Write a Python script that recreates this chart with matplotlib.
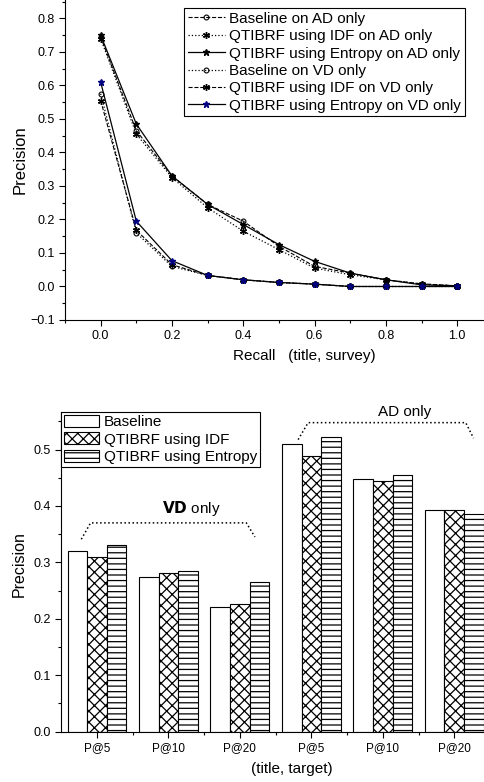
import matplotlib
matplotlib.use('Agg')
import matplotlib.pyplot as plt
from matplotlib.ticker import MultipleLocator
import numpy as np

plt.rcParams['font.family'] = ['Liberation Sans', 'DejaVu Sans']
plt.rcParams['hatch.linewidth'] = 0.9

# top chart: precision / recall curves
recall = [0.0, 0.1, 0.2, 0.3, 0.4, 0.5, 0.6, 0.7, 0.8, 0.9, 1.0]
base_ad = [0.745, 0.465, 0.330, 0.245, 0.195, 0.120, 0.060, 0.040, 0.020, 0.008, 0.002]
idf_ad = [0.740, 0.455, 0.325, 0.235, 0.165, 0.110, 0.055, 0.035, 0.020, 0.007, 0.002]
ent_ad = [0.750, 0.485, 0.330, 0.245, 0.185, 0.125, 0.075, 0.040, 0.020, 0.005, 0.002]
base_vd = [0.575, 0.160, 0.060, 0.033, 0.020, 0.012, 0.007, 0.000, 0.000, 0.000, 0.000]
idf_vd = [0.555, 0.168, 0.065, 0.033, 0.020, 0.012, 0.007, 0.000, 0.000, 0.000, 0.000]
ent_vd = [0.610, 0.195, 0.077, 0.033, 0.020, 0.012, 0.007, 0.000, 0.000, 0.000, 0.000]

# bottom chart: P@k bars
cats = ['P@5', 'P@10', 'P@20', 'P@5', 'P@10', 'P@20']
bar_base = [0.320, 0.274, 0.221, 0.510, 0.448, 0.393]
bar_idf = [0.310, 0.281, 0.227, 0.488, 0.444, 0.393]
bar_ent = [0.330, 0.285, 0.265, 0.523, 0.455, 0.385]

fig = plt.figure(figsize=(4.85, 7.82), dpi=100)

ax1 = fig.add_axes([65 / 485, 1 - 320 / 782, 420 / 485, 320 / 782])
ast = (6, 2, 0)
ax1.plot(recall, base_ad, '--', color='k', lw=0.8, marker='o', ms=3.5, mfc='none', mec='k', mew=0.8, label='Baseline on AD only')
ax1.plot(recall, idf_ad, ':', color='k', lw=0.9, marker=ast, ms=5, mec='k', mew=1.0, label='QTIBRF using IDF on AD only')
ax1.plot(recall, ent_ad, '-', color='k', lw=0.9, marker='*', ms=5, mfc='k', mec='k', label='QTIBRF using Entropy on AD only')
ax1.plot(recall, base_vd, ':', color='k', lw=0.9, marker='o', ms=3.5, mfc='none', mec='k', mew=0.8, label='Baseline on VD only')
ax1.plot(recall, idf_vd, '--', color='k', lw=0.8, marker=ast, ms=5, mec='k', mew=1.0, label='QTIBRF using IDF on VD only')
ax1.plot(recall, ent_vd, '-', color='k', lw=0.9, marker='*', ms=5, mfc='#000080', mec='#000080', label='QTIBRF using Entropy on VD only')
ax1.set_xlim(-0.1, 1.078)
ax1.set_ylim(-0.1, 0.855)
ax1.xaxis.set_minor_locator(MultipleLocator(0.1))
ax1.yaxis.set_major_locator(MultipleLocator(0.1))
ax1.yaxis.set_minor_locator(MultipleLocator(0.05))
ax1.set_xticks([0.0, 0.2, 0.4, 0.6, 0.8, 1.0])
ax1.set_xticklabels(['0.0', '0.2', '0.4', '0.6', '0.8', '1.0'])
ax1.set_ylabel('Precision', fontsize=12)
ax1.yaxis.set_label_coords(-0.09, 0.5)
ax1.set_xlabel('Recall   (title, survey)', fontsize=11)
ax1.xaxis.set_label_coords(0.569, -0.09)
leg = ax1.legend(loc='upper right', bbox_to_anchor=(0.952, 0.975), fontsize=11,
                 frameon=True, fancybox=False, edgecolor='k', framealpha=1,
                 labelspacing=0.22, handlelength=2.4, handletextpad=0.3,
                 borderpad=0.25, borderaxespad=0)
leg.get_frame().set_linewidth(0.8)

ax2 = fig.add_axes([61 / 485, 1 - 731.7 / 782, 424 / 485, (731.7 - 411.7) / 782])
x = np.arange(len(cats))
w = 0.275
ax2.bar(x - w, bar_base, w, color='white', edgecolor='k', lw=0.8, label='Baseline')
ax2.bar(x, bar_idf, w, color='white', edgecolor='k', lw=0.8, hatch='xxx', label='QTIBRF using IDF')
ax2.bar(x + w, bar_ent, w, color='white', edgecolor='k', lw=0.8, hatch='---', label='QTIBRF using Entropy')
ax2.set_xlim(-0.504, 5.43)
ax2.set_ylim(0, 0.567)
ax2.set_xticks(x)
ax2.set_xticklabels(cats, fontsize=8.5)
ax2.set_xticks(x[:-1] + 0.5, minor=True)
ax2.yaxis.set_major_locator(MultipleLocator(0.1))
ax2.yaxis.set_minor_locator(MultipleLocator(0.05))
ax2.set_ylabel('Precision', fontsize=11.5)
ax2.yaxis.set_label_coords(-0.08, 0.524)
ax2.set_xlabel('(title, target)', fontsize=11)
ax2.xaxis.set_label_coords(0.545, -0.096)
leg2 = ax2.legend(loc='upper left', bbox_to_anchor=(0, 1), fontsize=11,
                  frameon=True, fancybox=False, edgecolor='k', framealpha=1,
                  labelspacing=0.2, handlelength=2.3, handleheight=0.85,
                  handletextpad=0.3, borderpad=0.2, borderaxespad=0)
leg2.get_frame().set_linewidth(0.8)

# group brackets
ax2.plot([-0.22, -0.09, 2.09, 2.21], [0.341, 0.370, 0.370, 0.345], ':', color='k', lw=1.1)
ax2.text(1.32, 0.396, r'$\mathbf{VD}$ only', ha='center', va='center', fontsize=11)
ax2.plot([2.815, 2.955, 5.16, 5.27], [0.5175, 0.5476, 0.5476, 0.52], ':', color='k', lw=1.1)
ax2.text(4.31, 0.566, 'AD only', ha='center', va='center', fontsize=11)

for ax in (ax1, ax2):
    ax.spines['top'].set_visible(False)
    ax.spines['right'].set_visible(False)
    ax.tick_params(which='major', direction='out', length=4, width=0.8, labelsize=9)
    ax.tick_params(which='minor', direction='out', length=2.5, width=0.8)
ax2.tick_params(axis='x', which='major', labelsize=8.5)

fig.savefig('out.png', dpi=100)
